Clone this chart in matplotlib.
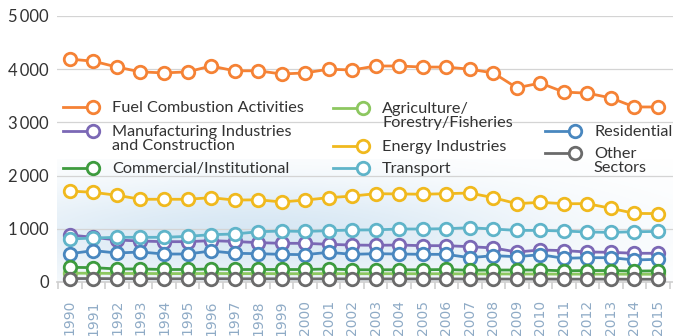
import numpy as np
import matplotlib
matplotlib.use("Agg")
import matplotlib.pyplot as plt
from matplotlib.lines import Line2D

years = list(range(1990, 2016))

fuel_combustion = [4190, 4150, 4040, 3950, 3930, 3950, 4060, 3970, 3970, 3910,
                   3930, 4000, 3985, 4060, 4060, 4040, 4040, 4000, 3930, 3650,
                   3740, 3570, 3550, 3460, 3290, 3290]
energy_industries = [1710, 1685, 1630, 1555, 1555, 1555, 1585, 1540, 1545, 1505,
                     1540, 1585, 1615, 1660, 1655, 1650, 1660, 1673, 1585, 1472,
                     1498, 1472, 1472, 1385, 1290, 1285]
transport = [808, 827, 840, 840, 840, 858, 890, 902, 945, 958,
             950, 965, 977, 980, 996, 996, 1002, 1020, 996, 970,
             970, 958, 940, 932, 945, 950]
manufacturing = [883, 840, 790, 770, 758, 758, 777, 762, 740, 727,
                 727, 708, 695, 690, 695, 683, 683, 664, 640, 564,
                 602, 590, 564, 558, 540, 540]
residential = [532, 590, 545, 564, 526, 526, 583, 540, 532, 520,
               514, 558, 520, 532, 526, 520, 520, 457, 495, 476,
               514, 445, 457, 457, 414, 426]
commercial = [276, 270, 245, 245, 235, 235, 245, 235, 235, 235,
              235, 245, 230, 230, 230, 230, 235, 220, 225, 225,
              225, 210, 215, 215, 205, 210]
agriculture = [165, 165, 160, 160, 158, 158, 160, 158, 158, 156,
               156, 158, 156, 156, 156, 155, 155, 152, 152, 150,
               150, 148, 148, 148, 146, 146]
other_sectors = [65, 65, 62, 62, 60, 60, 62, 60, 60, 60,
                 58, 60, 58, 58, 58, 58, 58, 56, 56, 55,
                 56, 54, 54, 54, 52, 52]

colors = {
    "fuel": "#f58235",
    "manuf": "#7b68b5",
    "comm": "#3d9b3e",
    "agri": "#8dc760",
    "energy": "#f0b91e",
    "transport": "#5fb4c9",
    "resid": "#4987bf",
    "other": "#6b6b6b",
}

FONT = ["Lato", "DejaVu Sans"]
plt.rcParams["font.family"] = FONT

fig = plt.figure(figsize=(6.73, 3.36), dpi=100)
ax = fig.add_axes([57 / 673, 54 / 336, 616 / 673, 266 / 336])

x0, x1 = 1989.45, 2015.64
ax.set_xlim(x0, x1)
ax.set_ylim(0, 5000)

# soft blue glow behind the lower series
gx = np.linspace(0, 1, 300)
gy = np.linspace(0, 1, 120)
GX, GY = np.meshgrid(gx, gy)
glow = np.exp(-((GX - 0.32) ** 2) / (2 * 0.34 ** 2) - ((GY - 0.4) ** 2) / (2 * 0.3 ** 2))
rgba = np.zeros((120, 300, 4))
rgba[..., 0] = 0.78
rgba[..., 1] = 0.87
rgba[..., 2] = 0.94
rgba[..., 3] = 0.7 * glow
ax.imshow(rgba, extent=(x0, x1, 0, 2300), origin="lower", aspect="auto", zorder=0)

for v in range(1000, 5001, 1000):
    ax.axhline(v, color="#d4d4d4", lw=0.9, zorder=1)

series = [
    (fuel_combustion, "fuel"),
    (energy_industries, "energy"),
    (manufacturing, "manuf"),
    (transport, "transport"),
    (residential, "resid"),
    (agriculture, "agri"),
    (commercial, "comm"),
    (other_sectors, "other"),
]
mk = dict(marker="o", markersize=9, markerfacecolor="white", markeredgewidth=2.0,
          lw=2.0, clip_on=False)
for i, (vals, key) in enumerate(series):
    ax.plot(years, vals, color=colors[key], zorder=3 + i, **mk)

for s in ["top", "right", "left"]:
    ax.spines[s].set_visible(False)
ax.spines["bottom"].set_color("#cfcfcf")
ax.spines["bottom"].set_linewidth(1.2)

# category ticks sit between the years, labels at the years
ax.set_xticks(np.arange(1989.5, 2016, 1.0))
ax.set_xticklabels([])
ax.tick_params(axis="x", length=5, width=1.2, color="#cfcfcf")
ax.set_xticks(years, minor=True)
ax.set_xticklabels([str(y) for y in years], minor=True, rotation=90,
                   fontsize=10, color="#8fabc6", va="top", family="DejaVu Sans")
ax.tick_params(axis="x", which="minor", length=0, pad=13)

ax.set_yticks(range(0, 5001, 1000))
ax.set_yticklabels(["0"] + [f"{v // 1000}\u2009000" for v in range(1000, 5001, 1000)])
ax.tick_params(axis="y", length=0, labelsize=12, labelcolor="#333333", pad=6)

# legend, laid out in three columns
legend_items = [
    ("fuel", "Fuel Combustion Activities", 63, 107),
    ("manuf", "Manufacturing Industries\nand Construction", 63, 131),
    ("comm", "Commercial/Institutional", 63, 168),
    ("agri", "Agriculture/\nForestry/Fisheries", 333, 108),
    ("energy", "Energy Industries", 333, 146),
    ("transport", "Transport", 333, 168),
    ("resid", "Residential", 545, 131),
    ("other", "Other\nSectors", 545, 153),
]
for key, label, px, py in legend_items:
    fy = 1 - py / 336
    fig.add_artist(Line2D([px / 673, (px + 32) / 673], [fy, fy], color=colors[key],
                          lw=2.0, zorder=20))
    fig.add_artist(Line2D([(px + 30) / 673], [fy], color=colors[key], marker="o",
                          markersize=9, markerfacecolor="white",
                          markeredgewidth=2.0, zorder=21))
    fig.text((px + 49) / 673, fy + 6 / 336, label, fontsize=11.7, color="#333333",
             va="top", ha="left", linespacing=1.0, zorder=22)

fig.savefig("out.png", dpi=100)
